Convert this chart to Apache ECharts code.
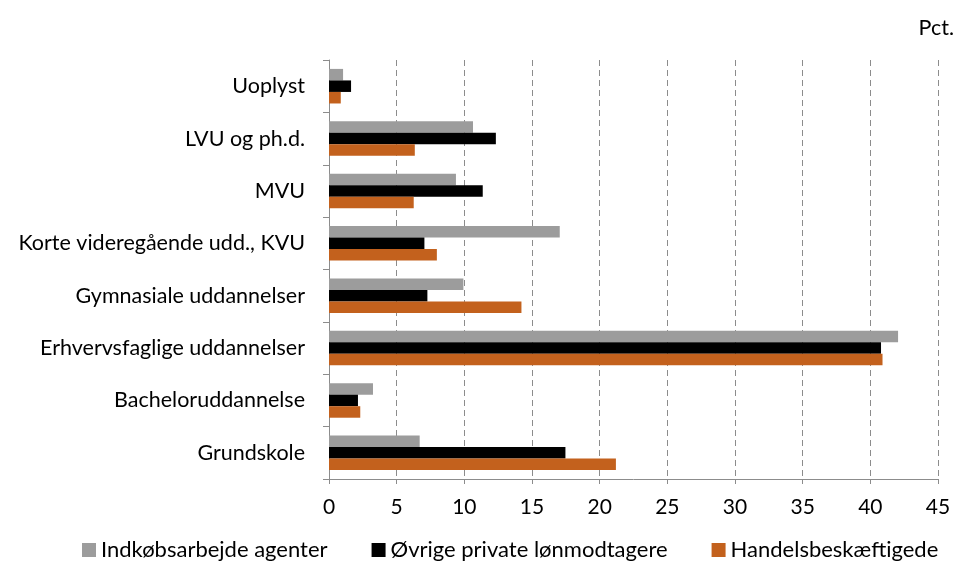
<!DOCTYPE html>
<html>
<head>
<meta charset="utf-8">
<script src="https://cdn.jsdelivr.net/npm/echarts@6/dist/echarts.min.js"></script>
<style>
  html, body { margin: 0; padding: 0; background: #fff; }
  #graph { width: 957px; height: 563px; }
</style>
</head>
<body>
<div id="graph"></div>
<script>
// categories listed bottom to top
const categories = [
    "Grundskole",
    "Bacheloruddannelse",
    "Erhvervsfaglige uddannelser",
    "Gymnasiale uddannelser",
    "Korte videregående udd., KVU",
    "MVU",
    "LVU og ph.d.",
    "Uoplyst"
];
const seriesNames = ["Indkøbsarbejde agenter", "Øvrige private lønmodtagere", "Handelsbeskæftigede"];
const indkob = [6.7, 3.25, 42.05, 9.93, 17.05, 9.38, 10.64, 1.04];
const ovrige = [17.47, 2.14, 40.79, 7.27, 7.05, 11.36, 12.33, 1.63];
const handel = [21.2, 2.31, 40.9, 14.22, 7.97, 6.26, 6.34, 0.87];
const xTicks = [0, 5, 10, 15, 20, 25, 30, 35, 40, 45];

const colors = ["#9c9c9c", "#000000", "#c3611d"];
const font = "Lato";

function createOptions() {
    const values = [indkob, ovrige, handel];
    const datasList = [];
    seriesNames.forEach((name, i) => {
        datasList.push({
            name: name,
            type: "bar",
            data: values[i],
            barGap: "0%",
            barCategoryGap: "34%",
            itemStyle: { color: colors[i] },
            silent: true
        });
    });
    return {
        animation: false,
        textStyle: { fontFamily: font },
        title: {
            text: "Pct.",
            right: -2,
            top: 12,
            textStyle: { fontFamily: font, fontSize: 21.5, fontWeight: "normal", color: "#000" }
        },
        legend: {
            data: seriesNames,
            top: 534,
            left: 77,
            itemWidth: 14,
            itemHeight: 14,
            itemGap: 44,
            icon: "rect",
            textStyle: { fontFamily: font, fontSize: 22, color: "#000" }
        },
        grid: {
            left: 329,
            right: 19,
            top: 60,
            bottom: 84
        },
        xAxis: {
            type: "value",
            min: xTicks[0],
            max: xTicks[xTicks.length - 1],
            interval: 5,
            axisLine: { show: true, lineStyle: { color: "#8c8c8c" } },
            axisTick: { show: true, length: 5, lineStyle: { color: "#8c8c8c" } },
            axisLabel: { fontFamily: font, fontSize: 21, color: "#000", margin: 18 },
            splitLine: { show: true, lineStyle: { color: "#8c8c8c", type: [6, 4] } }
        },
        yAxis: {
            type: "category",
            data: categories,
            axisLine: { show: true, lineStyle: { color: "#8c8c8c" } },
            axisTick: { show: true, length: 6, lineStyle: { color: "#8c8c8c" } },
            axisLabel: { fontFamily: font, fontSize: 21.5, color: "#000", margin: 24 },
            splitLine: { show: false }
        },
        series: datasList
    };
}

const myChart = echarts.init(document.getElementById("graph"));
myChart.setOption(createOptions());
</script>
</body>
</html>
